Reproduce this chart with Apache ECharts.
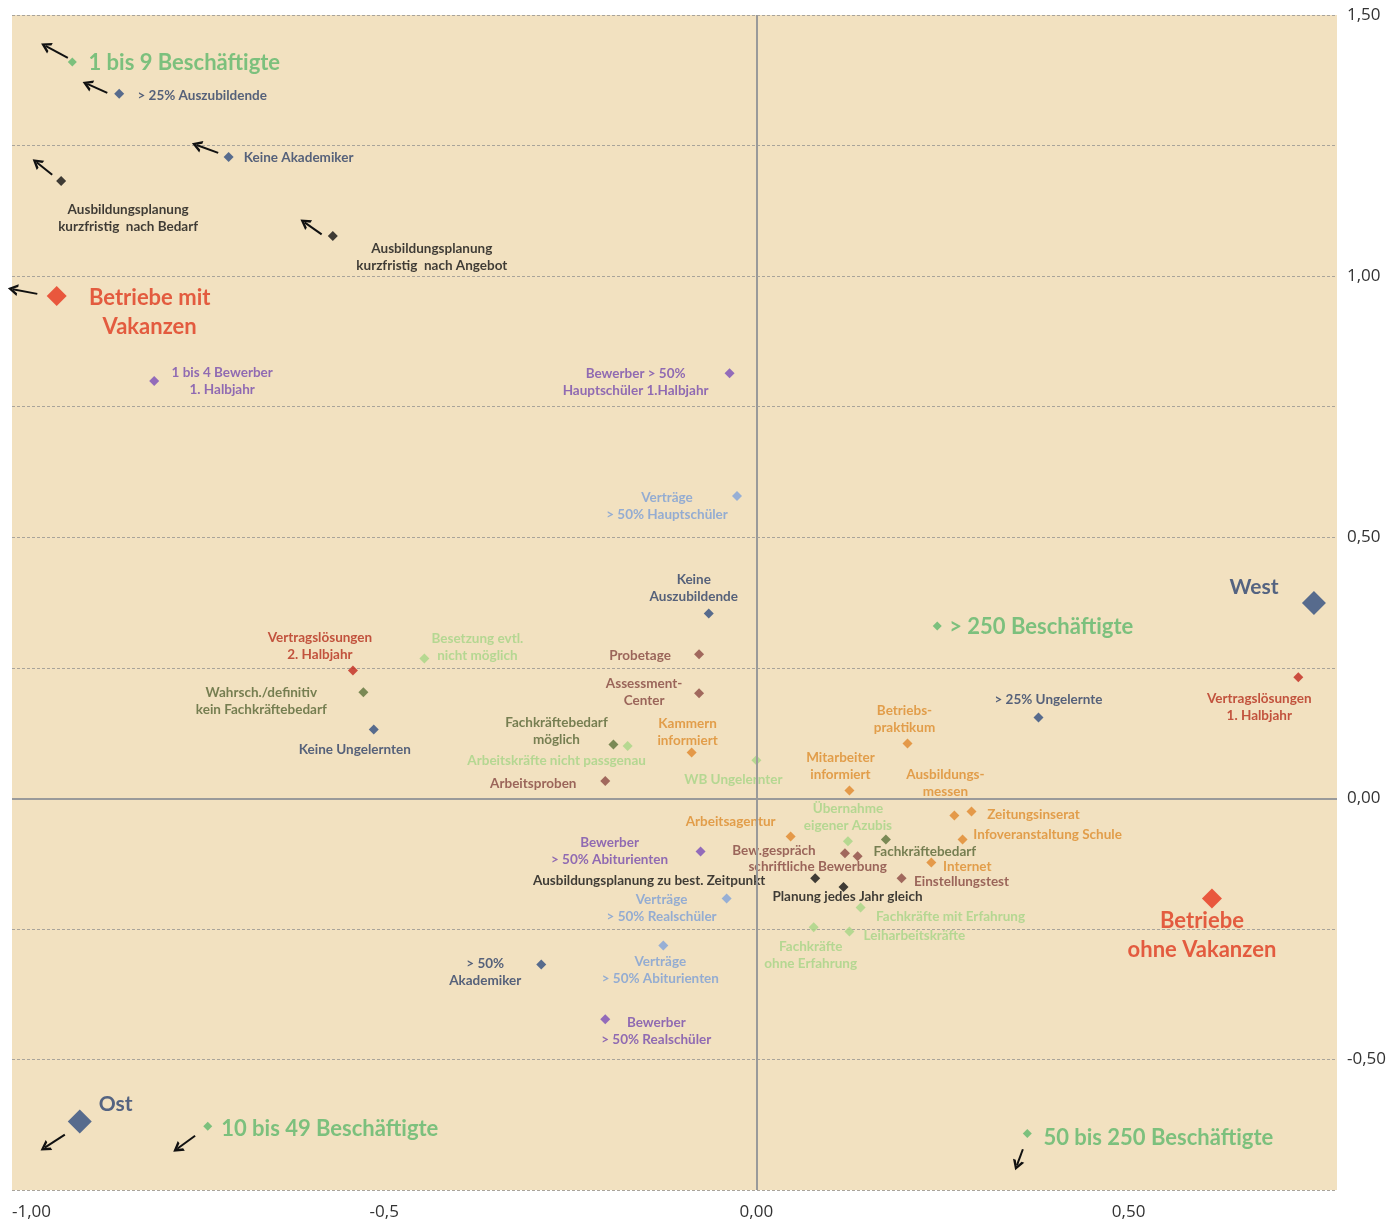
<!DOCTYPE html>
<html>
<head>
<meta charset="UTF-8">
<title>Betriebe mit / ohne Vakanzen</title>
<style>
    html, body { margin: 0; padding: 0; background: #fff; }
    #chart { width: 1400px; height: 1228px; }
</style>
<script src="https://cdn.jsdelivr.net/npm/echarts@6/dist/echarts.min.js"></script>
</head>
<body>
<div id="chart"></div>
<script>
// point groups: [x, y, label]
var sizeGroup = [
    [-0.919, 1.410, '1 bis 9 Beschäftigte'],
    [0.243, 0.330, '> 250 Beschäftigte'],
    [-0.737, -0.628, '10 bis 49 Beschäftigte'],
    [0.364, -0.642, '50 bis 250 Beschäftigte']
];
var regionGroup = [
    [0.749, 0.374, 'West'],
    [-0.909, -0.619, 'Ost']
];
var vacancyGroup = [
    [-0.940, 0.962, 'Betriebe mit\nVakanzen'],
    [0.612, -0.192, 'Betriebe\nohne Vakanzen']
];
var staffGroup = [
    [-0.856, 1.349, '> 25% Auszubildende'],
    [-0.709, 1.228, 'Keine Akademiker'],
    [-0.064, 0.354, 'Keine\nAuszubildende'],
    [0.379, 0.155, '> 25% Ungelernte'],
    [-0.514, 0.132, 'Keine Ungelernten'],
    [-0.289, -0.318, '> 50%\nAkademiker']
];
var planGroup = [
    [-0.934, 1.182, 'Ausbildungsplanung\nkurzfristig  nach Bedarf'],
    [-0.569, 1.077, 'Ausbildungsplanung\nkurzfristig  nach Angebot'],
    [0.079, -0.153, 'Ausbildungsplanung zu best. Zeitpunkt'],
    [0.117, -0.170, 'Planung jedes Jahr gleich']
];
var applicantGroup = [
    [-0.809, 0.799, '1 bis 4 Bewerber\n1. Halbjahr'],
    [-0.036, 0.814, 'Bewerber > 50%\nHauptschüler 1.Halbjahr'],
    [-0.075, -0.102, 'Bewerber\n> 50% Abiturienten'],
    [-0.203, -0.423, 'Bewerber\n> 50% Realschüler']
];
var contractGroup = [
    [-0.026, 0.579, 'Verträge\n> 50% Hauptschüler'],
    [-0.040, -0.192, 'Verträge\n> 50% Realschüler'],
    [-0.125, -0.282, 'Verträge\n> 50% Abiturienten']
];
var dropoutGroup = [
    [-0.542, 0.245, 'Vertragslösungen\n2. Halbjahr'],
    [0.728, 0.232, 'Vertragslösungen\n1. Halbjahr']
];
var workforceGroup = [
    [-0.446, 0.268, 'Besetzung evtl.\nnicht möglich'],
    [-0.173, 0.100, 'Arbeitskräfte nicht passgenau'],
    [0.000, 0.073, 'WB Ungelernter'],
    [0.123, -0.082, 'Übernahme\neigener Azubis'],
    [0.140, -0.209, 'Fachkräfte mit Erfahrung'],
    [0.125, -0.255, 'Leiharbeitskräfte'],
    [0.077, -0.247, 'Fachkräfte\nohne Erfahrung']
];
var selectionGroup = [
    [-0.077, 0.276, 'Probetage'],
    [-0.077, 0.201, 'Assessment-\nCenter'],
    [-0.203, 0.033, 'Arbeitsproben'],
    [0.119, -0.105, 'Bew.gespräch'],
    [0.136, -0.111, 'schriftliche Bewerbung'],
    [0.195, -0.153, 'Einstellungstest']
];
var demandGroup = [
    [-0.528, 0.203, 'Wahrsch./definitiv\nkein Fachkräftebedarf'],
    [-0.192, 0.103, 'Fachkräftebedarf\nmöglich'],
    [0.174, -0.079, 'Fachkräftebedarf']
];
var channelGroup = [
    [0.203, 0.105, 'Betriebs-\npraktikum'],
    [-0.087, 0.088, 'Kammern\ninformiert'],
    [0.125, 0.015, 'Mitarbeiter\ninformiert'],
    [0.266, -0.033, 'Ausbildungs-\nmessen'],
    [0.289, -0.025, 'Zeitungsinserat'],
    [0.277, -0.079, 'Infoveranstaltung Schule'],
    [0.046, -0.073, 'Arbeitsagentur'],
    [0.235, -0.123, 'Internet']
];
// arrows: [from, to]
var arrows = [
    [[-0.925, 1.418], [-0.955, 1.441]],
    [[-0.872, 1.351], [-0.899, 1.368]],
    [[-0.723, 1.236], [-0.752, 1.251]],
    [[-0.946, 1.194], [-0.967, 1.218]],
    [[-0.584, 1.080], [-0.607, 1.103]],
    [[-0.966, 0.966], [-0.999, 0.975]],
    [[-0.929, -0.644], [-0.956, -0.669]],
    [[-0.754, -0.646], [-0.778, -0.671]],
    [[0.358, -0.672], [0.350, -0.703]]
];
var xTicks = {'-1': '-1,00', '-0.5': '-0,5', '0': '0,00', '0.5': '0,50'};

// label offsets in px from the point
var labelOffset = {
    '1 bis 9 Beschäftigte': [112, 1],
    '> 25% Auszubildende': [83, 2],
    'Keine Akademiker': [70, 1],
    'Ausbildungsplanung\nkurzfristig  nach Bedarf': [67, 37],
    'Ausbildungsplanung\nkurzfristig  nach Angebot': [99, 21],
    'Betriebe mit\nVakanzen': [93, 16],
    '1 bis 4 Bewerber\n1. Halbjahr': [68, 0],
    'Bewerber > 50%\nHauptschüler 1.Halbjahr': [-94, 9],
    'Verträge\n> 50% Hauptschüler': [-70, 10],
    'Keine\nAuszubildende': [-15, -25],
    '> 250 Beschäftigte': [104, 1],
    'West': [-60, -16],
    'Vertragslösungen\n2. Halbjahr': [-33, -24],
    'Besetzung evtl.\nnicht möglich': [53, -11],
    'Probetage': [-59, 1],
    'Wahrsch./definitiv\nkein Fachkräftebedarf': [-102, 9],
    'Assessment-\nCenter': [-55, -1],
    'Vertragslösungen\n1. Halbjahr': [-39, 30],
    '> 25% Ungelernte': [10, -18],
    'Keine Ungelernten': [-19, 20],
    'Betriebs-\npraktikum': [-3, -24],
    'Fachkräftebedarf\nmöglich': [-57, -13],
    'Arbeitskräfte nicht passgenau': [-71, 15],
    'Kammern\ninformiert': [-4, -20],
    'WB Ungelernter': [-23, 19],
    'Arbeitsproben': [-72, 3],
    'Mitarbeiter\ninformiert': [-9, -24],
    'Ausbildungs-\nmessen': [-9, -32],
    'Zeitungsinserat': [62, 3],
    'Infoveranstaltung Schule': [85, -5],
    'Arbeitsagentur': [-60, -15],
    'Übernahme\neigener Azubis': [0, -24],
    'Fachkräftebedarf': [39, 12],
    'Bew.gespräch': [-71, -3],
    'schriftliche Bewerbung': [-40, 10],
    'Internet': [36, 4],
    'Einstellungstest': [60, 3],
    'Ausbildungsplanung zu best. Zeitpunkt': [-166, 2],
    'Planung jedes Jahr gleich': [4, 10],
    'Fachkräfte mit Erfahrung': [90, 9],
    'Leiharbeitskräfte': [65, 4],
    'Fachkräfte\nohne Erfahrung': [-3, 28],
    'Bewerber\n> 50% Abiturienten': [-91, 0],
    'Verträge\n> 50% Realschüler': [-65, 10],
    'Verträge\n> 50% Abiturienten': [-3, 25],
    '> 50%\nAkademiker': [-56, 8],
    'Bewerber\n> 50% Realschüler': [51, 12],
    'Betriebe\nohne Vakanzen': [-10, 37],
    'Ost': [36, -17],
    '10 bis 49 Beschäftigte': [122, 3],
    '50 bis 250 Beschäftigte': [131, 4]
};

function group(name, arr, color, textColor, size, fontSize, lineHeight) {
    return {
        name: name,
        type: 'scatter',
        symbol: 'diamond',
        symbolSize: size,
        itemStyle: {color: color},
        label: {
            show: true,
            position: 'inside',
            formatter: '{b}',
            color: textColor,
            fontFamily: 'Lato',
            fontWeight: 'bold',
            fontSize: fontSize,
            lineHeight: lineHeight,
            align: 'center',
            verticalAlign: 'middle'
        },
        data: arr.map(function (p) {
            return {name: p[2], value: [p[0], p[1]], label: {offset: labelOffset[p[2]] || [0, 0]}};
        })
    };
}

var chevron = 'path://M0,10 L5,0 L10,10 L7.6,10 L5,4.5 L2.4,10 Z';

var myChart = echarts.init(document.getElementById('chart'));
var option = {
    animation: false,
    backgroundColor: '#ffffff',
    grid: {
        left: 12, right: 63, top: 15, bottom: 38,
        show: true, backgroundColor: '#F2E1C0', borderWidth: 0
    },
    xAxis: {
        type: 'value',
        min: -1, max: 0.78, interval: 0.5,
        axisLine: {show: false},
        axisTick: {show: false},
        splitLine: {show: false},
        axisLabel: {
            margin: 14,
            color: '#333',
            fontFamily: 'Open Sans',
            fontSize: 17,
            alignMinLabel: 'left',
            showMaxLabel: false,
            formatter: function (v) {
                var k = String(Math.round(v * 100) / 100);
                return xTicks[k] || '';
            }
        }
    },
    yAxis: {
        type: 'value',
        position: 'right',
        min: -0.75, max: 1.5, interval: 0.25,
        axisLine: {show: false},
        axisTick: {show: false},
        splitLine: {lineStyle: {color: '#A9A49B', type: [3, 2], width: 1}},
        axisLabel: {
            margin: 10,
            color: '#333',
            fontFamily: 'Open Sans',
            fontSize: 17,
            formatter: function (v) {
                var r = Math.round(v * 100);
                if (r % 50 !== 0) return '';
                return (v).toFixed(2).replace('.', ',');
            }
        }
    },
    series: [
        {
            type: 'scatter',
            data: [],
            silent: true,
            markLine: {
                silent: true,
                symbol: ['none', 'none'],
                label: {show: false},
                lineStyle: {color: '#9A9A9A', width: 2, type: 'solid'},
                data: [{xAxis: 0}, {yAxis: 0}]
            }
        },
        {
            type: 'scatter',
            data: [],
            silent: true,
            markLine: {
                silent: true,
                symbol: ['none', chevron],
                symbolSize: [12, 10],
                label: {show: false},
                lineStyle: {color: '#111', width: 2, type: 'solid'},
                data: arrows.map(function (a) {
                    return [{coord: a[0]}, {coord: a[1]}];
                })
            }
        },
        group('Beschäftigte', sizeGroup, '#5EB86B', '#5EB86B', 9, 22, 28),
        group('Region', regionGroup, '#2F4D80', '#2C4470', 24, 21, 26),
        group('Vakanzen', vacancyGroup, '#E6351B', '#DE3A1E', 20, 22, 29),
        group('Personal', staffGroup, '#2F4D80', '#2E4168', 10, 13.5, 17),
        group('Planung', planGroup, '#111111', '#111111', 10, 13.5, 17),
        group('Bewerber', applicantGroup, '#7A4DB8', '#774CAE', 10, 13.5, 17),
        group('Verträge', contractGroup, '#7FA3DA', '#7C9FD6', 10, 13.5, 17),
        group('Vertragslösungen', dropoutGroup, '#C0281E', '#B52E1C', 10, 13.5, 17),
        group('Arbeitskräfte', workforceGroup, '#A6D684', '#A5D486', 10, 13.5, 17),
        group('Auswahl', selectionGroup, '#8C4A44', '#854640', 10, 13.5, 17),
        group('Fachkräftebedarf', demandGroup, '#5B7339', '#566535', 10, 13.5, 17),
        group('Kanäle', channelGroup, '#E0872A', '#DD8C2C', 10, 13.5, 17)
    ]
};
myChart.setOption(option);
</script>
</body>
</html>
